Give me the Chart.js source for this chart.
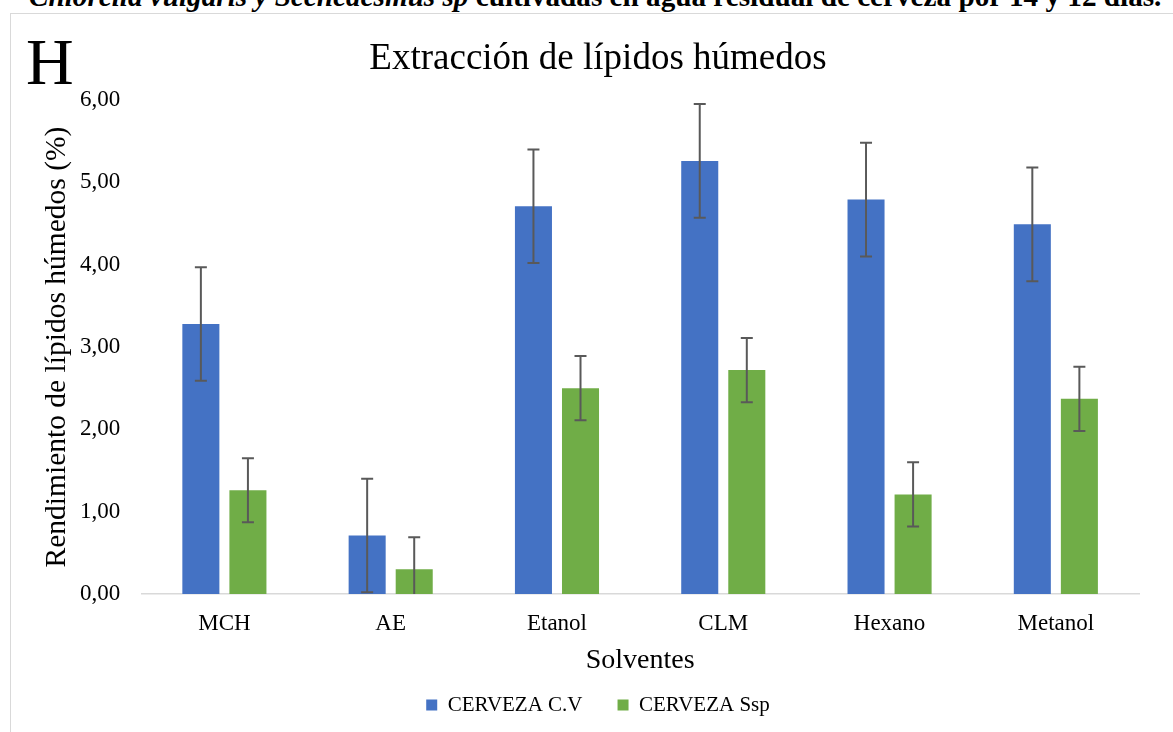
<!DOCTYPE html>
<html>
<head>
<meta charset="utf-8">
<script src="https://cdn.jsdelivr.net/npm/chart.js@4"></script>
<style>
  html, body { margin: 0; padding: 0; background: #fff; overflow: hidden; width: 1173px; height: 732px; }
  #cap { position: absolute; left: 29px; top: -20px; white-space: nowrap;
         font: bold 29.2px "Liberation Serif", "Times New Roman", serif; color: #000; }
  #frame { position: absolute; left: 10px; top: 13px; width: 1176px; height: 740px;
           border: 1px solid #d9d9d9; }
  #letter { position: absolute; left: 15px; top: 10px;
            font: 66px "Liberation Serif", "Times New Roman", serif; color: #000; }
  #wrap { position: absolute; left: 0; top: 0; width: 1176px; height: 718px; }
</style>
</head>
<body>
<div id="cap"><i>Chlorella vulgaris y Scenedesmus sp</i> cultivadas en agua residual de cerveza por 14 y 12 días.</div>
<div id="frame">
  <div id="wrap"><canvas id="myChart"></canvas></div>
  <div id="letter">H</div>
</div>
<script>
    // solventes y rendimientos (%)
    var solventes = ['MCH', 'AE', 'Etanol', 'CLM', 'Hexano', 'Metanol'];
    var cervezaCV = [3.28, 0.71, 4.71, 5.26, 4.79, 4.49];
    var cervezaSsp = [1.26, 0.30, 2.50, 2.72, 1.21, 2.37];
    var errorCV = [0.69, 0.69, 0.69, 0.69, 0.69, 0.69];
    var errorSsp = [0.39, 0.39, 0.39, 0.39, 0.39, 0.39];
    var ejeY = [0, 1, 2, 3, 4, 5, 6];

    var serif = '"Liberation Serif", "Times New Roman", serif';

    /*barras de error dibujadas con las escalas del grafico*/
    var errorBars = {
        id: 'errorBars',
        afterDatasetsDraw: function(chart) {
            var ctx = chart.ctx;
            var area = chart.chartArea;
            var y = chart.scales.y;
            ctx.save();
            ctx.beginPath();
            ctx.rect(area.left, area.top - 20, area.right - area.left, area.bottom - area.top + 20);
            ctx.clip();
            ctx.strokeStyle = '#595959';
            ctx.lineWidth = 2;
            chart.data.datasets.forEach(function(ds, i) {
                var meta = chart.getDatasetMeta(i);
                meta.data.forEach(function(bar, j) {
                    var v = ds.data[j], e = ds.errores[j];
                    var x = bar.x;
                    var yTop = y.getPixelForValue(v + e);
                    var yBot = y.getPixelForValue(v - e);
                    ctx.beginPath();
                    ctx.moveTo(x, yTop); ctx.lineTo(x, yBot);
                    ctx.moveTo(x - 6, yTop); ctx.lineTo(x + 6, yTop);
                    ctx.moveTo(x - 6, yBot); ctx.lineTo(x + 6, yBot);
                    ctx.stroke();
                });
            });
            ctx.restore();
        }
    };

    var ctx = document.querySelector('#myChart').getContext('2d');
    var myChart = new Chart(ctx, {
        type: 'bar',
        data: {
            labels: solventes,
            datasets: [{
                label: 'CERVEZA C.V',
                data: cervezaCV,
                errores: errorCV,
                backgroundColor: '#4472C4'
            }, {
                label: 'CERVEZA Ssp',
                data: cervezaSsp,
                errores: errorSsp,
                backgroundColor: '#70AD47'
            }]
        },
        options: {
            responsive: true,
            maintainAspectRatio: false,
            animation: false,
            categoryPercentage: 0.566,
            barPercentage: 0.787,
            layout: { padding: { left: 46, right: 48, top: 0, bottom: 6.5 } },
            plugins: {
                title: {
                    display: true,
                    text: 'Extracción de lípidos húmedos',
                    color: '#000',
                    font: { family: serif, size: 37, weight: 'normal', lineHeight: 1.2 },
                    padding: { top: 23, bottom: 18.6 }
                },
                legend: {
                    position: 'bottom',
                    labels: {
                        color: '#000',
                        font: { family: serif, size: 21 },
                        boxWidth: 11,
                        boxHeight: 11,
                        padding: 35
                    }
                },
                tooltip: { enabled: false }
            },
            scales: {
                x: {
                    grid: { display: false, drawTicks: false },
                    border: { color: '#d9d9d9', width: 1.5 },
                    ticks: { color: '#000', font: { family: serif, size: 23 }, padding: 16 },
                    title: {
                        display: true,
                        text: 'Solventes',
                        color: '#000',
                        font: { family: serif, size: 28 },
                        padding: { top: -9.4, bottom: -18.3 }
                    }
                },
                y: {
                    min: 0,
                    max: 6,
                    grid: { display: false, drawTicks: false },
                    border: { display: false },
                    afterBuildTicks: function(axis) {
                        axis.ticks = ejeY.map(function(v) { return { value: v }; });
                    },
                    ticks: {
                        color: '#000',
                        font: { family: serif, size: 23 },
                        padding: 21,
                        callback: function(v) { return v.toFixed(2).replace('.', ','); }
                    },
                    title: {
                        display: true,
                        text: 'Rendimiento de lípidos húmedos (%)',
                        color: '#000',
                        font: { family: serif, size: 29.5 },
                        padding: { top: -17, bottom: -16.4 }
                    }
                }
            }
        },
        plugins: [errorBars]
    });
</script>
</body>
</html>
